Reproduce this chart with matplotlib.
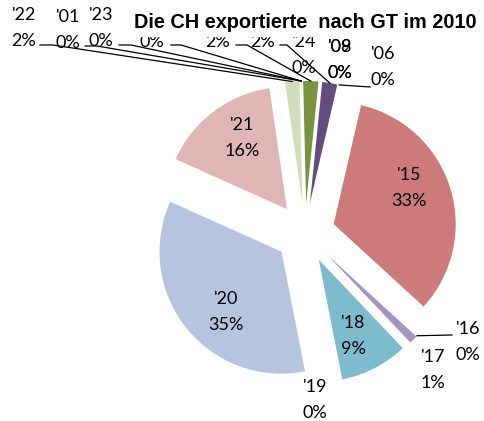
import numpy as np
import matplotlib.pyplot as plt
from matplotlib.patches import Rectangle

# categories in clockwise order, starting at the '15 slice
categories = ["'15", "'16", "'17", "'18", "'19", "'20", "'21", "'22", "'01",
              "'23", "'02", "'03", "'24", "'04", "'08", "'09", "'06"]
values = [33.2, 0, 1.1, 9.0, 0, 34.8, 16.0, 1.9, 0,
          0, 0, 2.0, 0, 2.0, 0, 0, 0]
colors = ['#CD7B7A', '#D99694', '#A394C0', '#7DBBCE', '#B6C4DF', '#B6C4DF',
          '#DFB6B5', '#D1DEB9', '#D1DEB9', '#D1DEB9', '#D1DEB9', '#78943E',
          '#78943E', '#634D7E', '#634D7E', '#634D7E', '#634D7E']
title = "Die CH exportierte  nach GT im 2010"
# these names sit under the title box in the original and are not visible
hidden_names = {"'02", "'03", "'04"}

# label block centres in pixels (y down)
label_pos = {
    "'15": (409, 188), "'18": (353, 336), "'20": (226, 312), "'21": (242, 138),
    "'16": (468, 342), "'17": (433, 370), "'19": (315, 400),
    "'22": (24, 28), "'01": (68, 30), "'23": (101, 28), "'02": (152, 29),
    "'03": (218, 29), "'04": (263, 29), "'24": (304, 55),
    "'08": (340, 60), "'09": (340, 60), "'06": (383, 67),
}
# leader line start, elbow x, y
leaders = {
    "'22": (40, 53, 45), "'01": (85, 97, 46), "'23": (119, 131, 45),
    "'02": (171, 181, 45), "'03": (236, 247, 45), "'04": (280, 287, 45),
    "'06": (370, 370, 87), "'16": (452, 452, 335),
}

W, H = 484, 421
fig = plt.figure(figsize=(W / 100, H / 100), dpi=100)
ax = fig.add_axes([0, 0, 1, 1])

wedges, _ = ax.pie(values, colors=colors, explode=[30] * len(values),
                   radius=122, center=(305, 233), startangle=283,
                   counterclock=True, wedgeprops=dict(linewidth=0))
ax.set_xlim(0, W)
ax.set_ylim(H, 0)
ax.set_aspect('auto')
ax.axis('off')

total = sum(values)
for cat, val, w in zip(categories, values, wedges):
    x, y = label_pos[cat]
    pct = f"{val / total * 100:.0f}%"
    if cat not in hidden_names:
        ax.text(x, y - 12.8, cat, ha='center', va='center', fontsize=13,
                family='Lato', zorder=3)
    ax.text(x, y + 12.8, pct, ha='center', va='center', fontsize=13,
            family='Lato', zorder=3)
    if cat in leaders:
        x0, x1, ly = leaders[cat]
        mid = np.radians((w.theta1 + w.theta2) / 2)
        cx, cy = w.center
        axp = cx + w.r * np.cos(mid)
        ayp = cy + w.r * np.sin(mid)
        ax.plot([x0, x1, axp], [ly, ly, ayp], color='black', lw=0.9, zorder=3)

ax.add_patch(Rectangle((125, 0), W - 125, 36, color='white', zorder=4))
ax.text(305.5, 28, title, ha='center', va='baseline', fontsize=14.3,
        fontweight='bold', family='Liberation Sans', zorder=5)

fig.savefig('out.png', dpi=100)
